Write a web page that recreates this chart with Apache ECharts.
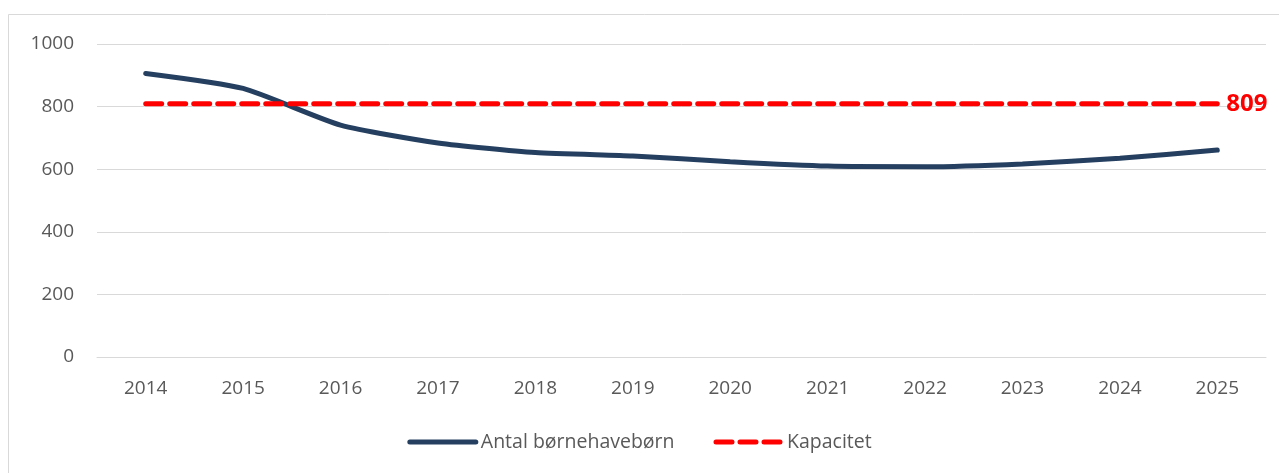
<!DOCTYPE html>
<html><head><meta charset="utf-8">
<script src="https://cdn.jsdelivr.net/npm/echarts@6/dist/echarts.min.js"></script>
<style>html,body{margin:0;padding:0;background:#fff}#c{width:1279px;height:473px}</style>
</head><body><div id="c"></div>
<script>
const categories = ['2014','2015','2016','2017','2018','2019','2020','2021','2022','2023','2024','2025'];
const children = [906, 858, 741, 684, 653, 642, 624, 610, 608, 617, 635, 661];
const capacity = [809, 809, 809, 809, 809, 809, 809, 809, 809, 809, 809, 809];
const seriesNames = ['Antal børnehavebørn', 'Kapacitet'];
const yTicks = {min: 0, max: 1000, interval: 200};

const font = '"Open Sans", "Liberation Sans", sans-serif';
const chart = echarts.init(document.getElementById('c'), null, {renderer: 'canvas'});
chart.setOption({
  animation: false,
  backgroundColor: '#fff',
  graphic: [{type: 'rect', shape: {x: 8.5, y: 14.5, width: 1290, height: 480}, style: {fill: 'none', stroke: '#d9d9d9', lineWidth: 1}, silent: true}],
  grid: {left: 97, right: 13, top: 44, bottom: 116, containLabel: false},
  legend: {
    bottom: 16, left: 'center', itemGap: 39, itemWidth: 66, itemHeight: 12,
    textStyle: {color: '#595959', fontSize: 19.5, fontFamily: font},
    itemStyle: {opacity: 0},
    lineStyle: {width: 5, opacity: 1, cap: 'round'},
    data: seriesNames
  },
  xAxis: {
    type: 'category', data: categories, boundaryGap: true,
    axisLine: {show: true, lineStyle: {color: '#d9d9d9', width: 1}},
    axisTick: {show: false},
    axisLabel: {color: '#595959', fontSize: 19, fontFamily: font, margin: 22}
  },
  yAxis: {
    type: 'value', min: yTicks.min, max: yTicks.max, interval: yTicks.interval,
    axisLine: {show: false}, axisTick: {show: false},
    splitLine: {lineStyle: {color: '#d9d9d9', width: 1}},
    axisLabel: {color: '#595959', fontSize: 19, fontFamily: font, margin: 23, formatter: v => String(v)}
  },
  series: [
    {
      name: seriesNames[0], type: 'line', data: children, smooth: 0.2,
      symbol: 'none', color: '#243f60',
      lineStyle: {color: '#243f60', width: 5, cap: 'round'}
    },
    {
      name: seriesNames[1], type: 'line', data: capacity,
      symbol: 'none', color: '#ff0000',
      lineStyle: {color: '#ff0000', width: 5, type: [16, 8], cap: 'round'},
      endLabel: {show: true, formatter: p => String(p.value), color: '#ff0000', fontSize: 24, fontWeight: 'bold', fontFamily: font, distance: 9}
    }
  ]
});
</script></body></html>
